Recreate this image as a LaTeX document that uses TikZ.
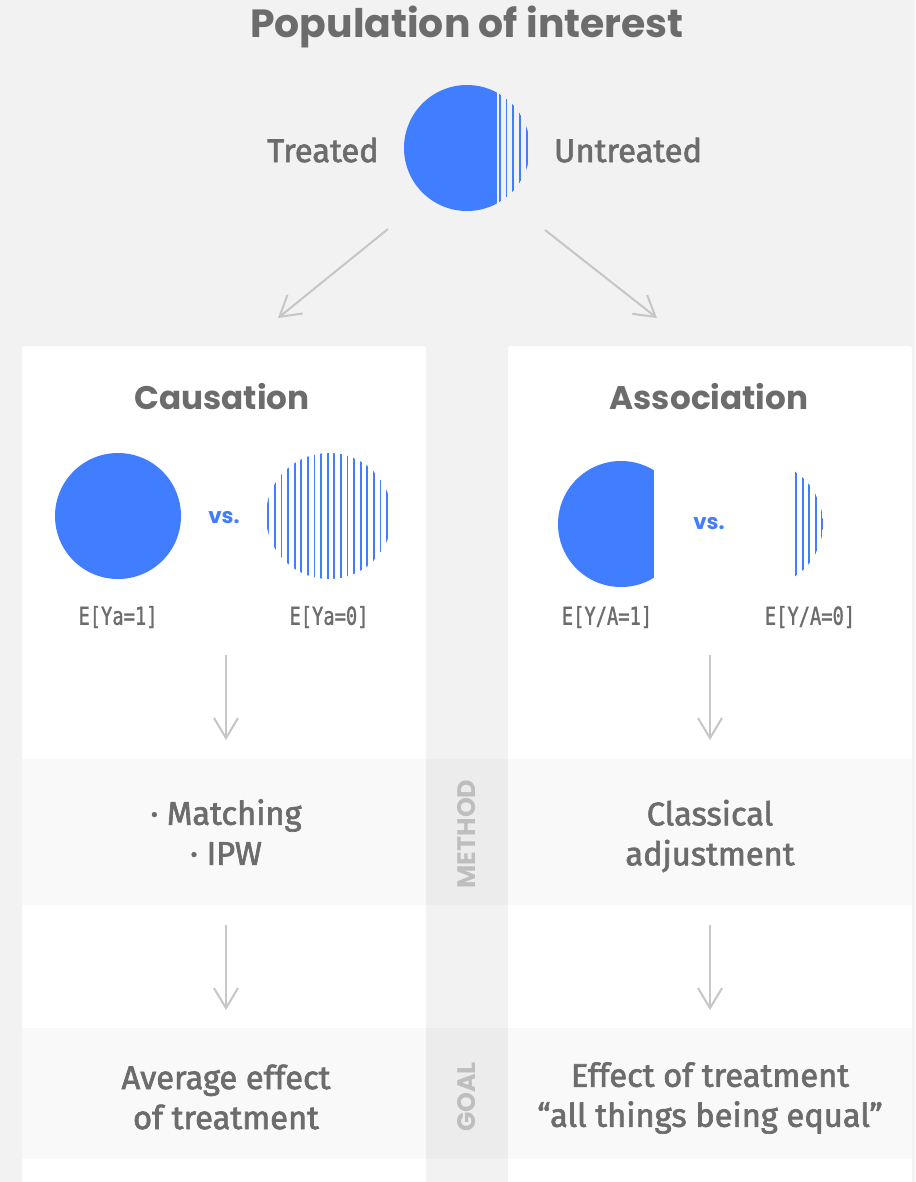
\documentclass[tikz,border=0pt]{standalone}
\usepackage{fontspec}
\usetikzlibrary{arrows.meta}
\newfontfamily\headfont{Poppins}
\newfontfamily\bodyfont{Fira Sans}[FakeBold=2]
\newfontfamily\codefont{DejaVu Sans Mono}[FakeStretch=0.76,FakeBold=1.2]
\definecolor{popblue}{RGB}{64,125,255}
\definecolor{textgrey}{RGB}{108,108,108}
\definecolor{bggrey}{RGB}{242,242,242}
\definecolor{bandgrey}{RGB}{249,249,249}
\definecolor{midgrey}{RGB}{236,236,236}
\definecolor{arrowgrey}{RGB}{198,198,198}
\definecolor{taggrey}{RGB}{190,190,190}

\begin{document}
\begin{tikzpicture}[x=0.75pt,y=0.75pt,
        title/.style={text=textgrey, font=\headfont\bfseries\fontsize{29.5}{34}\selectfont},
        head/.style={text=textgrey, font=\headfont\bfseries\fontsize{24.5}{30}\selectfont},
        body/.style={text=textgrey, align=center, font=\bodyfont\fontsize{24.5}{30}\selectfont},
        code/.style={text=textgrey, font=\codefont\fontsize{18.5}{22}\selectfont},
        versus/.style={text=popblue, font=\headfont\bfseries\fontsize{16}{20}\selectfont},
        tag/.style={text=taggrey, rotate=90, font=\headfont\bfseries\fontsize{19}{22}\selectfont},
        flow/.style={draw=arrowgrey, line width=1.5pt, -{Straight Barb[length=15pt,width=18pt]}},
        stripe/.style={draw=popblue, line width=1.4pt}]
        \useasboundingbox (0,0) rectangle (915,-1182);
        \fill[bggrey] (0,0) rectangle (915,-1182);
        \fill[white, rounded corners=2] (22,-346) rectangle (426,-1190);
        \fill[white, rounded corners=2] (508,-346) rectangle (912,-1190);
        \fill[bandgrey] (22,-759) rectangle (912,-905);
        \fill[bandgrey] (22,-1028) rectangle (912,-1159);
        \fill[midgrey] (426,-759) rectangle (508,-905);
        \fill[midgrey] (426,-1028) rectangle (508,-1159);

        \node[title] (pop) at (467,-27) {Population of interest};
        \node[body] (treated) at (323,-150) {Treated};
        \node[body] (untreated) at (628,-150) {Untreated};
        \begin{scope}
            \clip (467,-148) circle (63);
            \fill[popblue] (400,-80) rectangle (497,-216);
            \foreach \x in {499.8,506.5,...,531} \draw[stripe] (\x,-80) -- (\x,-216);
        \end{scope}

        \coordinate (popL) at (388,-229);
        \coordinate (popR) at (545,-230);
        \coordinate (causeIn) at (278,-318);
        \coordinate (assocIn) at (657,-318);
        \draw[flow] (popL) -- (causeIn);
        \draw[flow] (popR) -- (assocIn);

        \node[head] (cause) at (222,-397) {Causation};
        \node[head] (assoc) at (709,-397) {Association};

        \fill[popblue] (118,-516) circle (63);
        \begin{scope}
            \clip (329,-516) circle (63);
            \foreach \x in {268.3,274.9,...,393} \draw[stripe] (\x,-450) -- (\x,-582);
        \end{scope}
        \node[versus] (vsC) at (224,-518) {vs.};
        \node[code] (ya1) at (118,-617) {E[Ya=1]};
        \node[code] (ya0) at (329,-617) {E[Ya=0]};

        \begin{scope}
            \clip (621,-524) circle (63);
            \fill[popblue] (555,-458) rectangle (654,-590);
        \end{scope}
        \begin{scope}
            \clip (760,-524) circle (63);
            \foreach \x in {796,802.6,...,824} \draw[stripe] (\x,-458) -- (\x,-590);
        \end{scope}
        \node[versus] (vsA) at (709,-524) {vs.};
        \node[code] (ya1A) at (607,-617) {E[Y/A=1]};
        \node[code] (ya0A) at (810,-617) {E[Y/A=0]};

        \coordinate (c1) at (226,-655);
        \coordinate (c2) at (226,-740);
        \coordinate (c3) at (226,-925);
        \coordinate (c4) at (226,-1010);
        \coordinate (a1) at (710,-655);
        \coordinate (a2) at (710,-740);
        \coordinate (a3) at (710,-925);
        \coordinate (a4) at (710,-1010);
        \draw[flow] (c1) -- (c2);
        \draw[flow] (c3) -- (c4);
        \draw[flow] (a1) -- (a2);
        \draw[flow] (a3) -- (a4);

        \node[body] (matching) at (226,-832) {· Matching\\· IPW};
        \node[body] (classical) at (710,-836) {Classical\\adjustment};
        \node[tag] (method) at (467,-834) {METHOD};
        \node[body] (average) at (226,-1097) {Average effect\\of treatment};
        \node[body] (equal) at (710,-1098) {Effect of treatment\\“all things being equal”};
        \node[tag] (goal) at (467,-1097) {GOAL};
    \end{tikzpicture}
\end{document}
